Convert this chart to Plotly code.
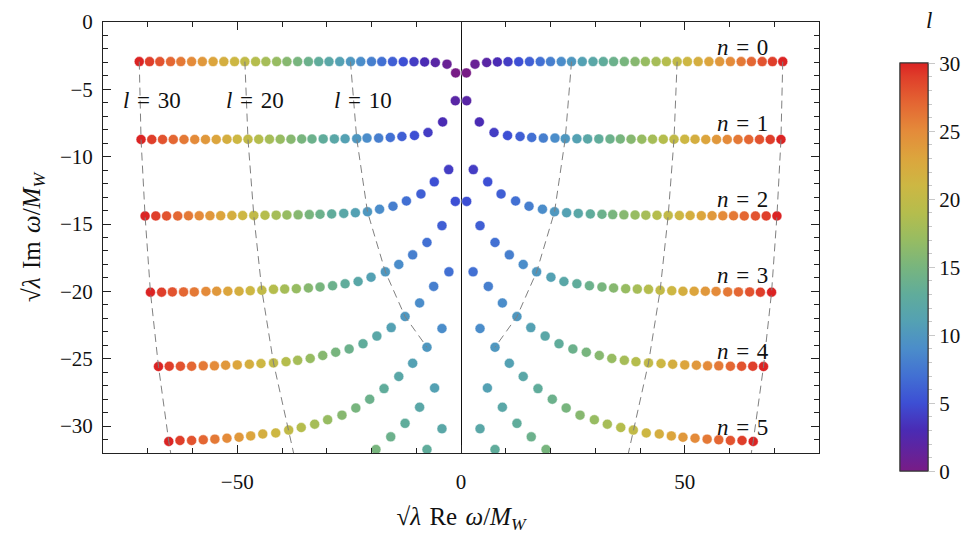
import plotly.graph_objects as go

# ---------------- data (right half, Re > 0; left half is the mirror image) ----------------
# smallest l present in each overtone row n
l_min = [0, 2, 4, 5, 7, 9, 11, 12]

re_n0 = [1.2, 3.13, 5.74, 8.13, 10.5, 12.9, 15.3, 17.7, 20.0, 22.4, 24.7, 27.1, 29.5, 31.8, 34.1, 36.5,
         38.9, 41.2, 43.6, 45.9, 48.3, 50.6, 53.0, 55.4, 57.8, 60.2, 62.6, 64.9, 67.3, 69.6, 71.9]
im_n0 = [-3.78, -3.13, -3.01, -2.97, -2.95, -2.95, -2.94, -2.94, -2.94, -2.94, -2.94, -2.94, -2.94, -2.94,
         -2.94, -2.94, -2.94, -2.94, -2.94, -2.94, -2.94, -2.94, -2.94, -2.94, -2.94, -2.94, -2.94, -2.94,
         -2.94, -2.94, -2.94]

re_n1 = [1.27, 4.1, 7.38, 10.4, 13.2, 15.8, 18.4, 21.0, 23.3, 25.9, 28.3, 30.8, 33.3, 35.6, 38.0, 40.4,
         42.8, 45.2, 47.6, 50.0, 52.3, 54.7, 57.1, 59.5, 61.9, 64.3, 66.7, 69.1, 71.5]
im_n1 = [-5.85, -7.42, -8.21, -8.43, -8.50, -8.57, -8.62, -8.62, -8.66, -8.67, -8.68, -8.68, -8.69, -8.69,
         -8.70, -8.70, -8.70, -8.71, -8.71, -8.71, -8.71, -8.72, -8.72, -8.72, -8.72, -8.72, -8.72, -8.72,
         -8.72]

re_n2 = [2.75, 5.97, 8.95, 12.2, 15.2, 18.2, 20.9, 23.6, 26.2, 28.9, 31.5, 33.9, 36.4, 38.9, 41.3, 43.8,
         46.3, 48.8, 51.2, 53.7, 56.1, 58.5, 60.9, 63.3, 65.8, 68.2, 70.6]
im_n2 = [-10.96, -11.87, -12.77, -13.29, -13.68, -13.90, -14.09, -14.16, -14.21, -14.25, -14.28, -14.30,
         -14.32, -14.33, -14.34, -14.35, -14.36, -14.37, -14.37, -14.38, -14.38, -14.39, -14.39, -14.40,
         -14.40, -14.40, -14.40]

re_n3 = [1.27, 4.25, 7.6, 10.8, 13.9, 16.9, 20.1, 23.0, 25.9, 28.7, 31.5, 34.1, 36.8, 39.4, 41.9, 44.5,
         47.1, 49.6, 52.1, 54.6, 57.0, 59.6, 62.0, 64.5, 66.9, 69.4]
im_n3 = [-13.32, -15.12, -16.37, -17.29, -18.0, -18.55, -18.95, -19.27, -19.44, -19.58, -19.68, -19.75,
         -19.80, -19.83, -19.85, -19.92, -19.95, -19.99, -19.99, -19.99, -20.0, -20.04, -20.04, -20.04,
         -20.06, -20.06]

re_n4 = [2.7, 6.1, 9.25, 12.5, 15.6, 18.8, 21.9, 25.0, 28.0, 30.9, 33.7, 36.5, 39.1, 41.9, 44.7, 47.3,
         50.0, 52.6, 55.1, 57.6, 60.2, 62.7, 65.2, 67.6]
im_n4 = [-18.55, -19.63, -20.86, -21.87, -22.69, -23.32, -23.89, -24.28, -24.52, -24.76, -24.98, -25.12,
         -25.22, -25.31, -25.36, -25.41, -25.46, -25.48, -25.53, -25.53, -25.56, -25.56, -25.56, -25.58]

re_n5 = [4.25, 7.6, 10.8, 13.9, 17.2, 20.4, 23.5, 26.6, 29.8, 32.7, 35.7, 38.5, 41.4, 44.3, 47.0, 49.6,
         52.3, 55.0, 57.6, 60.2, 62.8, 65.3]
im_n5 = [-22.76, -24.15, -25.34, -26.32, -27.22, -28.01, -28.66, -29.19, -29.53, -29.86, -30.11, -30.30,
         -30.51, -30.59, -30.73, -30.83, -30.90, -30.97, -31.02, -31.07, -31.07, -31.14]

re_n6 = [5.9, 9.25, 12.5, 15.7, 19.0]
im_n6 = [-27.17, -28.6, -29.8, -30.8, -31.74]

re_n7 = [4.25, 7.6]
im_n7 = [-30.2, -31.74]

rows_re = [re_n0, re_n1, re_n2, re_n3, re_n4, re_n5, re_n6, re_n7]
rows_im = [im_n0, im_n1, im_n2, im_n3, im_n4, im_n5, im_n6, im_n7]

# l values traced by the dashed guide curves, and their continuation below the frame (n = 6)
guide_l = [10, 20, 30]
guide_tail_re = {20: 35.0, 30: 62.6}
guide_tail_im = {20: -35.6, 30: -36.6}

row_labels = ["n = 0", "n = 1", "n = 2", "n = 3", "n = 4", "n = 5"]
row_label_re = 63.0
row_label_im = [-1.88, -7.51, -13.15, -18.79, -24.5, -30.1]
guide_label_re = [-22.0, -46.0, -69.0]
guide_label_im = -5.85

# ---------------- figure ----------------
rainbow = [[0.0, '#781c86'], [0.1, '#4a2bb4'], [0.167, '#3d4fd4'], [0.233, '#4270d3'],
           [0.3, '#4b8dca'], [0.367, '#54a1b3'], [0.433, '#60ac9b'], [0.5, '#78b57e'],
           [0.567, '#97bc62'], [0.633, '#b5bd4d'], [0.7, '#cdb743'], [0.767, '#dca53d'],
           [0.833, '#e48b3a'], [0.9, '#e46733'], [0.967, '#df3e2a'], [1.0, '#db2323']]

FONT = "Liberation Serif"
SP = "\u2004"

xs, ys, cs = [], [], []
for n, (rr, ii) in enumerate(zip(rows_re, rows_im)):
    for k, (r, i) in enumerate(zip(rr, ii)):
        l = l_min[n] + k
        for s in (-1, 1):
            xs.append(s * r)
            ys.append(i)
            cs.append(l)

cb_common = dict(x=1.113, xanchor="left", xpad=0, y=0.431, yanchor="middle", ypad=0,
                 thickness=28, lenmode="pixels", len=408,
                 outlinewidth=1, outlinecolor="#333", ticks="outside", tickcolor="#c8c8c8", tickwidth=1)

fig = go.Figure()
# colour bar carrying only the unit (minor) ticks
fig.add_trace(go.Scatter(
    x=[None], y=[None], mode="markers",
    marker=dict(color=[0], colorscale=rainbow, cmin=0, cmax=30, showscale=True,
                colorbar=dict(tick0=0, dtick=1, ticklen=4, showticklabels=False, **cb_common)),
    showlegend=False, hoverinfo="skip"))

fig.add_trace(go.Scatter(
    x=xs, y=ys, mode="markers",
    marker=dict(size=10, color=cs, colorscale=rainbow, cmin=0, cmax=30,
                line=dict(width=0.6, color="rgba(255,255,255,0.8)"),
                showscale=True,
                colorbar=dict(tick0=0, dtick=5, ticklen=7,
                              tickfont=dict(family=FONT, size=21, color="#111"), **cb_common)),
    showlegend=False, hoverinfo="skip"))

for L in guide_l:
    gx, gy = [], []
    for n, (rr, ii) in enumerate(zip(rows_re, rows_im)):
        k = L - l_min[n]
        if 0 <= k < len(rr) and n <= 5:
            gx.append(rr[k])
            gy.append(ii[k])
    if L in guide_tail_re:
        gx.append(guide_tail_re[L])
        gy.append(guide_tail_im[L])
    for s in (-1, 1):
        fig.add_trace(go.Scatter(x=[s * v for v in gx], y=gy, mode="lines",
                                 line=dict(color="#808080", width=1, dash="8px,5px"),
                                 showlegend=False, hoverinfo="skip"))

ann = []
for txt, yy in zip(row_labels, row_label_im):
    a, b = txt.split(" = ")
    ann.append(dict(x=row_label_re, y=yy, xref="x", yref="y", showarrow=False,
                    xanchor="center", yanchor="middle",
                    text=f"<i>{a}</i>{SP}={SP}{b}", font=dict(family=FONT, size=23, color="#111")))
for L, xx in zip(guide_l, guide_label_re):
    ann.append(dict(x=xx, y=guide_label_im, xref="x", yref="y", showarrow=False,
                    xanchor="center", yanchor="middle",
                    text=f"<i>l</i>{SP}={SP}{L}", font=dict(family=FONT, size=23, color="#111")))
ann.append(dict(x=1.153, y=1.004, xref="paper", yref="paper", showarrow=False,
                xanchor="center", yanchor="middle",
                text="<i>l</i>", font=dict(family=FONT, size=23, color="#111")))

axis_common = dict(showgrid=False, showline=True, linecolor="#222", linewidth=1, mirror="ticks",
                   ticks="inside", tickcolor="#222", tickwidth=1, ticklen=8,
                   ticklabeloverflow="allow",
                   tickfont=dict(family=FONT, size=21, color="#111"))

fig.update_layout(
    width=971, height=541, autosize=False,
    margin=dict(l=103, r=151, t=10, b=88),
    plot_bgcolor="white", paper_bgcolor="white",
    annotations=ann,
    xaxis=dict(range=[-80, 80], tick0=0, dtick=50, zeroline=True, zerolinecolor="#111", zerolinewidth=1,
               minor=dict(dtick=10, ticks="inside", ticklen=5, tickcolor="#222"),
               ticklabelstandoff=10,
               title=dict(text=f"\u221a<i>λ</i>{SP}Re{SP}<i>ω</i>/<i>M</i><sub><i>W</i></sub>",
                          font=dict(family=FONT, size=25, color="#111"), standoff=14),
               **axis_common),
    yaxis=dict(range=[-32, 0], tick0=0, dtick=5, zeroline=False,
               minor=dict(dtick=1, ticks="inside", ticklen=5, tickcolor="#222"),
               ticklabelstandoff=5,
               title=dict(text=f"\u221a<i>λ</i>{SP}Im{SP}<i>ω</i>/<i>M</i><sub><i>W</i></sub>",
                          font=dict(family=FONT, size=25, color="#111"), standoff=12),
               **axis_common),
)

fig.write_html("out.html", config={"displayModeBar": False},
               post_script="document.body.style.margin='0px';")
